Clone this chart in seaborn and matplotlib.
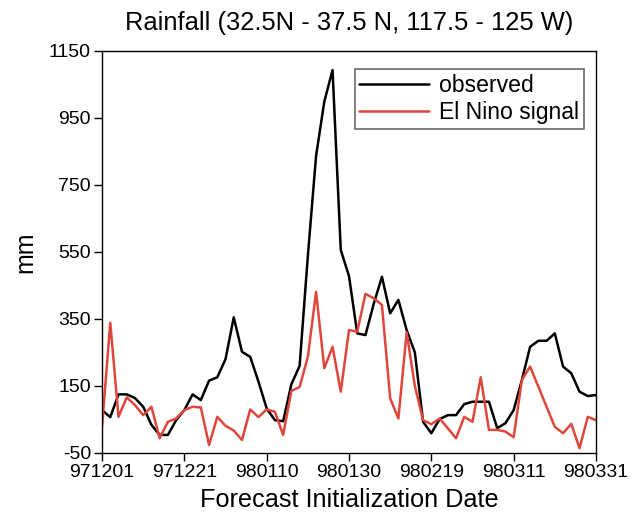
import matplotlib
matplotlib.use("Agg")
import matplotlib.pyplot as plt
import seaborn as sns
import numpy as np
import pandas as pd

# forecast days after 971201 (one run every 2 days)
days = np.arange(0, 121, 2)

observed = [78, 57, 125, 125, 114, 88, 34, 4, 4, 48,
            78, 125, 108, 166, 176, 230, 355, 252, 237, 163,
            83, 48, 45, 155, 210, 538, 837, 999, 1093, 556,
            478, 307, 302, 395, 476, 367, 407, 317, 250, 43,
            9, 51, 63, 63, 96, 103, 103, 103, 24, 39,
            78, 168, 267, 285, 285, 307, 208, 188, 133, 120,
            123]

el_nino = [28, 339, 58, 116, 93, 63, 88, -6, 43, 53,
           78, 88, 86, -26, 58, 31, 17, -11, 80, 57,
           80, 73, 4, 135, 147, 237, 431, 203, 267, 133,
           317, 312, 425, 412, 392, 113, 53, 310, 150, 48,
           36, 53, 24, -6, 58, 43, 176, 19, 19, 14,
           -3, 168, 208, 148, 88, 28, 9, 37, -36, 58,
           48]

tick_days = [0, 20, 40, 60, 80, 100, 120]
tick_labels = ['971201', '971221', '980110', '980130', '980219', '980311', '980331']
y_ticks = [-50, 150, 350, 550, 750, 950, 1150]

df = pd.DataFrame({'day': np.concatenate([days, days]),
                   'mm': observed + el_nino,
                   'series': ['observed'] * len(days) + ['El Nino signal'] * len(days)})

sns.set_style("ticks")
plt.rcParams['font.family'] = ['Liberation Sans', 'DejaVu Sans']
plt.rcParams['axes.unicode_minus'] = False
plt.rcParams['text.color'] = 'black'
plt.rcParams['axes.labelcolor'] = 'black'

fig = plt.figure(figsize=(6.31, 5.17), dpi=100)
ax = fig.add_axes([0.1617, 0.1238, 0.7828, 0.7776])

sns.lineplot(data=df, x='day', y='mm', hue='series',
             palette={'observed': 'black', 'El Nino signal': '#e0473c'},
             linewidth=1.8, ax=ax)

ax.set_xlim(0, 120)
ax.set_ylim(-50, 1150)
ax.set_xticks(tick_days)
ax.set_xticklabels(tick_labels)
ax.set_yticks(y_ticks)
ax.tick_params(labelsize=14, length=6, width=1, colors='black', pad=2)
for s in ax.spines.values():
    s.set_color('black')
    s.set_linewidth(1)

ax.set_title('Rainfall (32.5N - 37.5 N, 117.5 - 125 W)', fontsize=18.4, pad=15, color='black')
ax.set_xlabel('Forecast Initialization Date', fontsize=18.2, labelpad=5)
ax.set_ylabel('mm', fontsize=18, labelpad=8)

leg = ax.legend(loc='upper right', bbox_to_anchor=(0.975, 0.955), fontsize=16.6,
                frameon=True, fancybox=False, handlelength=3.0, borderpad=0.2,
                labelspacing=0.2, handletextpad=0.45, borderaxespad=0)
leg.get_frame().set_edgecolor('#444444')
leg.get_frame().set_linewidth(1.2)
for t in leg.get_texts():
    t.set_color('black')

fig.savefig('out.png', dpi=100)
